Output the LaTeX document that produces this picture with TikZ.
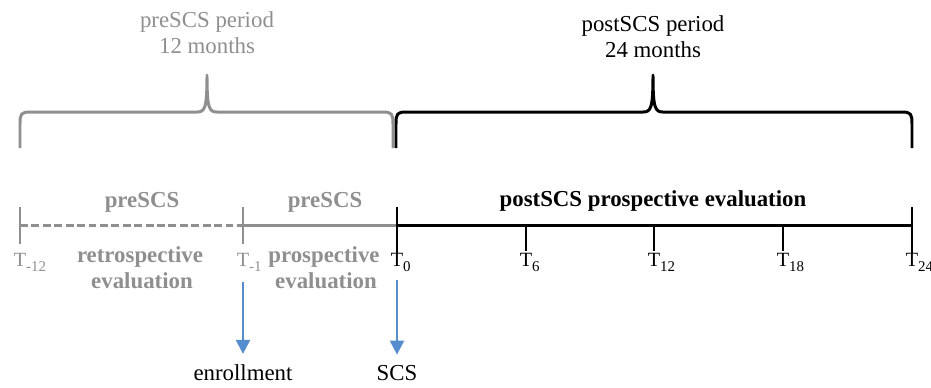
\documentclass[tikz,border=0pt]{standalone}
\usepackage{fontspec}
\setmainfont{Liberation Serif}
\usetikzlibrary{arrows.meta}
\definecolor{pregray}{RGB}{143,143,143}
\definecolor{arrowblue}{RGB}{86,141,206}
\newcommand{\tsub}[1]{\rlap{\raisebox{-3pt}{\fontsize{8.5}{9}\selectfont #1}}}

\begin{document}
\begin{tikzpicture}[x=0.02cm, y=-0.02cm, line width=1.7pt, line join=round,
        txt/.style={font=\fontsize{13}{15.5}\selectfont, inner sep=0pt, anchor=base},
        ticktxt/.style={font=\fontsize{11.5}{13}\selectfont, inner sep=0pt, anchor=base},
        boldtxt/.style={font=\fontsize{13}{15.5}\selectfont\bfseries, inner sep=0pt, anchor=base},
        preline/.style={draw=pregray},
        postline/.style={draw=black},
        event/.style={draw=arrowblue, line width=1.3pt, shorten >=5pt, -{Triangle[length=8pt,width=8pt]}}]
    \useasboundingbox (0,0) rectangle (931,387);

    % period headers
    \node (pretitle) [txt, text=pregray] at (207,27) {preSCS period};
    \node (premonths) [txt, text=pregray] at (207,53) {12 months};
    \node (posttitle) [txt] at (653,31) {postSCS period};
    \node (postmonths) [txt] at (653,57) {24 months};

    % braces
    \draw[preline] (20,148) -- (20,124) .. controls (20,114) and (21,112) .. (30,112) -- (197,112)
        .. controls (205,112) and (207,108) .. (207,75) .. controls (207,108) and (209,112) .. (217,112)
        -- (383,112) .. controls (392,112) and (393,114) .. (393,124) -- (393,148);
    \draw[postline] (396,148) -- (396,124) .. controls (396,114) and (397,112) .. (406,112) -- (643,112)
        .. controls (651,112) and (653,108) .. (653,75) .. controls (653,108) and (655,112) .. (663,112)
        -- (902,112) .. controls (911,112) and (912,114) .. (912,124) -- (912,148);

    % time points
    \coordinate (m12) at (20,225);
    \coordinate (m1) at (243,225);
    \coordinate (p0) at (397,225);
    \coordinate (p6) at (526,225);
    \coordinate (p12) at (654,225);
    \coordinate (p18) at (783,225);
    \coordinate (p24) at (912,225);

    \draw[preline, dash pattern=on 4.5pt off 2pt] (m12) -- (m1);
    \draw[preline] (m1) -- (p0);
    \draw[postline] (p0) -- (p24);
    \foreach \p in {m12,m1} \draw[preline] ([shift={(0,-18)}]\p) -- ([shift={(0,19)}]\p);
    \foreach \p in {p0,p24} \draw[postline] ([shift={(0,-18)}]\p) -- ([shift={(0,28)}]\p);
    \foreach \p in {p6,p12,p18} \draw[postline] (\p) -- ([shift={(0,26)}]\p);

    % tick labels
    \node (tm12) [ticktxt, text=pregray] at (20,266) {T\tsub{-12}};
    \node (tm1) [ticktxt, text=pregray] at (243,266) {T\tsub{-1}};
    \node (t0) [ticktxt] at (397,266) {T\tsub{0}};
    \node (t6) [ticktxt] at (526,266) {T\tsub{6}};
    \node (t12) [ticktxt] at (654,266) {T\tsub{12}};
    \node (t18) [ticktxt] at (783,266) {T\tsub{18}};
    \node (t24) [ticktxt] at (912,266) {T\tsub{24}};

    % phase labels
    \node (retro) [boldtxt, text=pregray] at (142,207) {preSCS};
    \node (retro2) [boldtxt, text=pregray] at (140,262) {retrospective};
    \node (retro3) [boldtxt, text=pregray] at (142,288) {evaluation};
    \node (prosp) [boldtxt, text=pregray] at (325,207) {preSCS};
    \node (prosp2) [boldtxt, text=pregray] at (324,262) {prospective};
    \node (prosp3) [boldtxt, text=pregray] at (326,288) {evaluation};
    \node (postprosp) [boldtxt] at (653,206) {postSCS prospective evaluation};

    % events
    \coordinate (e1) at (243,282);
    \coordinate (e2) at (397,280);
    \node (enroll) [txt] at (243,380) {enrollment};
    \node (scs) [txt] at (397,380) {SCS};
    \draw[event] (e1) -- (enroll.north);
    \draw[event] (e2) -- (scs.north);
\end{tikzpicture}
\end{document}
